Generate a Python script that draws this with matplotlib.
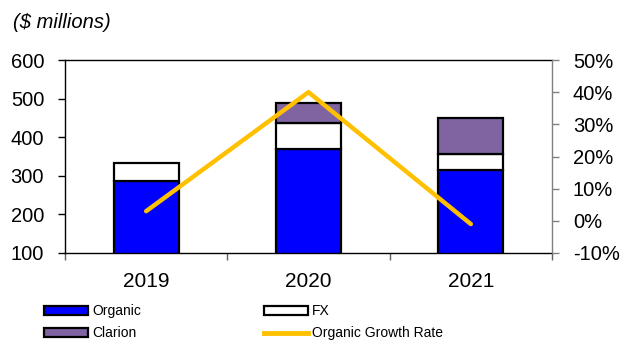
import matplotlib.pyplot as plt
from matplotlib.patches import Patch
from matplotlib.lines import Line2D
from matplotlib.ticker import FixedLocator, PercentFormatter

plt.rcParams['font.family'] = ['Liberation Sans', 'DejaVu Sans']
plt.rcParams['axes.unicode_minus'] = False

years = ['2019', '2020', '2021']
organic = [287, 369, 315]
fx = [46, 69, 42]
clarion = [0, 50, 94]
growth = [3, 40, -1]  # organic growth rate, %

c_org = '#0000FF'
c_fx = '#FFFFFF'
c_cla = '#8064A2'
c_line = '#FFC000'

fig = plt.figure(figsize=(6.21, 3.41), dpi=100)
ax = fig.add_axes([65 / 621, 88 / 341, 487 / 621, 193 / 341])

x = list(range(len(years)))
w = 0.4
bottom_fx = organic
bottom_cla = [o + f for o, f in zip(organic, fx)]
ax.bar(x, organic, w, color=c_org, edgecolor='black', linewidth=1.6, zorder=2)
ax.bar(x, fx, w, bottom=bottom_fx, color=c_fx, edgecolor='black', linewidth=1.6, zorder=2)
cla_x = [i for i, v in zip(x, clarion) if v > 0]
cla_v = [v for v in clarion if v > 0]
cla_b = [b for b, v in zip(bottom_cla, clarion) if v > 0]
ax.bar(cla_x, cla_v, w, bottom=cla_b, color=c_cla, edgecolor='black', linewidth=1.6, zorder=2)

ax.set_xlim(-0.5, 2.5)
ax.set_ylim(100, 600)
ax.set_yticks(range(100, 601, 100))
ax.set_xticks(x)
ax.set_xticklabels(years)
ax.xaxis.set_minor_locator(FixedLocator([-0.5, 0.5, 1.5, 2.5]))
ax.tick_params(axis='x', which='major', length=0, labelsize=15, pad=13.5)
ax.tick_params(axis='x', which='minor', length=5, width=1, color='#606060')
ax.tick_params(axis='y', labelsize=14.5, length=5, width=1, pad=10)
for s in ['left', 'top', 'bottom']:
    ax.spines[s].set_linewidth(1.0)
ax.spines['right'].set_visible(False)

ax2 = ax.twinx()
ax2.plot(x, growth, color=c_line, linewidth=3.2, solid_capstyle='round', zorder=3)
ax2.set_ylim(-10, 50)
ax2.set_yticks(range(-10, 51, 10))
ax2.yaxis.set_major_formatter(PercentFormatter(decimals=0))
ax2.tick_params(axis='y', labelsize=14.5, length=5, width=1, color='#808080', pad=10)
for s in ['left', 'top', 'bottom']:
    ax2.spines[s].set_visible(False)
ax2.spines['right'].set_color('#808080')
ax2.spines['right'].set_linewidth(1.0)

fig.text(13 / 621, 1 - 22 / 341, '($ millions)', fontsize=14.5, style='italic', va='center')

handles = [
    Patch(facecolor=c_org, edgecolor='black', linewidth=1.6),
    Patch(facecolor=c_cla, edgecolor='black', linewidth=1.6),
    Patch(facecolor=c_fx, edgecolor='black', linewidth=1.6),
    Line2D([], [], color=c_line, linewidth=3.5),
]
labels = ['Organic', 'Clarion', 'FX', 'Organic Growth Rate']
fig.legend(handles, labels, ncol=2, loc='upper left', bbox_to_anchor=(44 / 621, 1 - 304 / 341),
           frameon=False, fontsize=10, handlelength=3.2, handleheight=0.6, handletextpad=0.3,
           columnspacing=8.8, labelspacing=0.6, borderaxespad=0, borderpad=0)

fig.savefig('out.png', dpi=100)
